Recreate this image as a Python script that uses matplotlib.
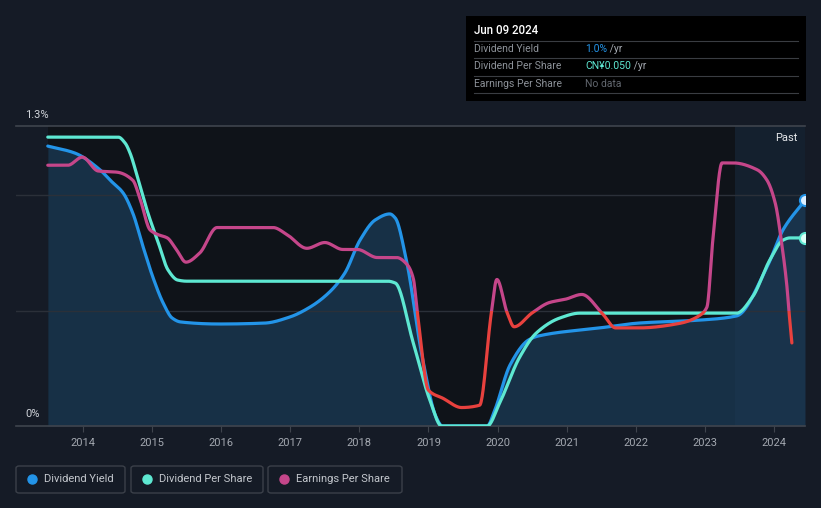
import numpy as np
import matplotlib
matplotlib.use("Agg")
import matplotlib.pyplot as plt
from matplotlib.patches import Rectangle, FancyBboxPatch

plt.rcParams['font.family'] = ['Roboto', 'DejaVu Sans']

# ---------------- data ----------------
yield_x = [2013.49, 2013.88, 2014.25, 2014.39, 2014.58, 2014.72, 2014.87, 2015.01, 2015.16,
           2015.29, 2015.41, 2015.98, 2016.63, 2016.99, 2017.29, 2017.57, 2017.79, 2018.01,
           2018.23, 2018.44, 2018.52, 2018.68, 2018.91, 2019.11, 2019.20, 2019.85, 2019.96,
           2020.18, 2020.45, 2020.59, 2021.48, 2022.04, 2022.93, 2023.46, 2023.90, 2024.13,
           2024.45]
yield_pct = [1.213, 1.183, 1.109, 1.066, 1.010, 0.923, 0.776, 0.646, 0.533,
             0.468, 0.451, 0.442, 0.446, 0.472, 0.516, 0.581, 0.663, 0.806,
             0.893, 0.919, 0.901, 0.719, 0.299, 0.039, 0.0, 0.0, 0.069,
             0.264, 0.373, 0.390, 0.425, 0.446, 0.459, 0.477, 0.689, 0.849,
             0.979]

dps_x = [2013.49, 2014.51, 2014.61, 2014.68, 2014.80, 2014.94, 2015.09, 2015.23, 2015.37,
         2015.50, 2018.41, 2018.52, 2018.78, 2019.02, 2019.19, 2019.85, 2020.03, 2020.32,
         2020.56, 2020.90, 2021.19, 2023.46, 2023.69, 2023.94, 2024.13, 2024.23, 2024.45]
dps_cny = [0.0768, 0.0768, 0.0752, 0.0726, 0.0654, 0.0566, 0.0487, 0.0415, 0.0388,
           0.0385, 0.0385, 0.0380, 0.0221, 0.0069, 0.0, 0.0, 0.0061, 0.0183,
           0.0247, 0.0287, 0.0300, 0.0300, 0.0343, 0.0441, 0.0494, 0.0500, 0.0500]

eps_x = [2013.49, 2013.78, 2013.99, 2014.22, 2014.49, 2014.72, 2014.83, 2014.97, 2015.08,
         2015.22, 2015.35, 2015.49, 2015.69, 2015.94, 2016.75, 2016.95, 2017.24,
         2017.50, 2017.76, 2017.97, 2018.26, 2018.54, 2018.69, 2018.78, 2018.84, 2019.00,
         2019.21, 2019.48, 2019.74, 2019.91, 2019.99, 2020.14, 2020.24, 2020.50, 2020.75,
         2020.99, 2021.22, 2021.51, 2021.71, 2022.04, 2022.64, 2022.93, 2023.03, 2023.12,
         2023.25, 2023.41, 2023.76, 2023.90, 2024.02, 2024.12, 2024.19, 2024.22, 2024.26]
eps_cny = [0.226, 0.226, 0.233, 0.221, 0.220, 0.213, 0.196, 0.170, 0.166,
           0.163, 0.153, 0.142, 0.150, 0.172, 0.172, 0.166, 0.154,
           0.159, 0.153, 0.153, 0.146, 0.146, 0.140, 0.128, 0.098, 0.031,
           0.024, 0.016, 0.018, 0.098, 0.127, 0.098, 0.086, 0.098, 0.107,
           0.110, 0.114, 0.098, 0.085, 0.085, 0.089, 0.096, 0.103, 0.164,
           0.228, 0.228, 0.222, 0.213, 0.193, 0.155, 0.120, 0.098, 0.072]

year_ticks = [2014, 2015, 2016, 2017, 2018, 2019, 2020, 2021, 2022, 2023, 2024]
y_labels = ["0%", "1.3%"]
legend_labels = ["Dividend Yield", "Dividend Per Share", "Earnings Per Share"]

# scale factors mapping each series onto the shared % axis
DPS_PER_PCT = 0.05 / 0.815
EPS_PER_PCT = 0.2
EPS_THRESHOLD = 0.1
PAST_START = 2023.44
X_MIN, X_MAX = 2013.03, 2024.45
Y_MAX = 1.3

# ---------------- helpers ----------------
def pchip(x, y, n=1500):
    x = np.asarray(x, float); y = np.asarray(y, float)
    h = np.diff(x); d = np.diff(y) / h
    m = np.zeros_like(y)
    for k in range(1, len(x) - 1):
        if d[k-1] * d[k] > 0:
            w1 = 2*h[k] + h[k-1]; w2 = h[k] + 2*h[k-1]
            m[k] = (w1 + w2) / (w1/d[k-1] + w2/d[k])
    m[0] = d[0]; m[-1] = d[-1]
    xs = np.linspace(x[0], x[-1], n)
    idx = np.clip(np.searchsorted(x, xs) - 1, 0, len(x) - 2)
    t = (xs - x[idx]) / h[idx]
    h00 = 2*t**3 - 3*t**2 + 1; h10 = t**3 - 2*t**2 + t
    h01 = -2*t**3 + 3*t**2; h11 = t**3 - t**2
    ys = h00*y[idx] + h10*h[idx]*m[idx] + h01*y[idx+1] + h11*h[idx]*m[idx+1]
    return xs, ys

BG = '#151b26'
PLOT_BG = '#0f1319'
BLUE = '#2394e8'
TEAL = '#5ee8d2'
PINK = '#c5468a'
RED = '#e8413e'

W, H = 821, 508
fig = plt.figure(figsize=(W/100, H/100), dpi=100, facecolor=BG)

def fx(px): return px / W
def fy(py): return 1 - py / H

ax = fig.add_axes([fx(16), fy(426), fx(805) - fx(16), fy(126) - fy(426)])
ax.set_facecolor(BG)
ax.set_xlim(X_MIN, X_MAX)
ax.set_ylim(0, Y_MAX)
for s in ax.spines.values():
    s.set_visible(False)

ax.axvspan(yield_x[0], X_MAX, color=PLOT_BG, zorder=0, lw=0)
ax.axvspan(PAST_START, X_MAX, color='#1c3550', alpha=0.4, zorder=1, lw=0)

bx, by = pchip(yield_x, yield_pct)
ax.fill_between(bx, 0, by, color='#1b3a56', alpha=0.75, lw=0, zorder=2)

for g in [0.5, 1.0]:
    ax.axhline(g, color='#2b3039', lw=1, zorder=3)
ax.axhline(Y_MAX, color='#3f444d', lw=1.2, zorder=3, clip_on=False)
ax.axhline(0, color='#3f444d', lw=1.2, zorder=3, clip_on=False)

ax.plot(bx, by, color=BLUE, lw=2.3, zorder=5, solid_capstyle='round')
tx, ty = pchip(dps_x, np.array(dps_cny) / DPS_PER_PCT)
ax.plot(tx, ty, color=TEAL, lw=2.3, zorder=6, solid_capstyle='round')

ex, ey = pchip(eps_x, np.array(eps_cny) / EPS_PER_PCT)
thr = EPS_THRESHOLD / EPS_PER_PCT
l1, = ax.plot(ex, ey, color=PINK, lw=2.3, zorder=7, solid_capstyle='round')
l2, = ax.plot(ex, ey, color=RED, lw=2.3, zorder=7, solid_capstyle='round')
r_up = Rectangle((X_MIN, thr), X_MAX - X_MIN, 5, transform=ax.transData)
r_dn = Rectangle((X_MIN, -5), X_MAX - X_MIN, 5 + thr, transform=ax.transData)
l1.set_clip_path(r_up)
l2.set_clip_path(r_dn)

ax.plot([yield_x[-1]], [yield_pct[-1]], 'o', ms=8, mfc='#dcefff', mec=BLUE, mew=1.5, zorder=8, clip_on=True)
ax.plot([dps_x[-1]], [dps_cny[-1] / DPS_PER_PCT], 'o', ms=8, mfc='#dcfff8', mec=TEAL, mew=1.5, zorder=8, clip_on=True)

ax.set_xticks(year_ticks)
ax.set_xticklabels([str(y) for y in year_ticks], color='#a3a8b0', fontsize=8)
ax.tick_params(axis='x', length=4, color='#3f444d', pad=5)
ax.set_yticks([])

fig.text(fx(25), fy(115), y_labels[1], color='#d0d4da', fontsize=8, va='center', ha='left')
fig.text(fx(25), fy(414), y_labels[0], color='#d0d4da', fontsize=8, va='center', ha='left')
fig.text(fx(797), fy(138), "Past", color='#e6e8eb', fontsize=8, va='center', ha='right')

fig.patches.append(Rectangle((fx(466), fy(101)), fx(806) - fx(466), fy(16) - fy(101),
                             transform=fig.transFigure, facecolor='#000000', edgecolor='none', zorder=10))
fig.text(fx(474), fy(31), "Jun 09 2024", color='#ffffff', fontsize=8.3, va='center',
         fontweight='medium', zorder=11)
for sy in [41, 58, 76, 93]:
    fig.add_artist(plt.Line2D([fx(474), fx(798)], [fy(sy), fy(sy)], color='#3a3d42', lw=0.8,
                              transform=fig.transFigure, zorder=11))
rows = [("Dividend Yield", "1.0%", BLUE, " /yr"),
        ("Dividend Per Share", "CN¥0.050", TEAL, " /yr"),
        ("Earnings Per Share", "No data", '#62676f', "")]
for (lab, val, col, suf), ry in zip(rows, [49, 66, 84]):
    fig.text(fx(474), fy(ry), lab, color='#8d9299', fontsize=7.5, va='center', zorder=11)
    t = fig.text(fx(585), fy(ry), val, color=col, fontsize=7.5, va='center', zorder=11)
    if suf:
        fig.canvas.draw()
        bb = t.get_window_extent()
        fig.text(bb.x1 / W, fy(ry), suf, color='#a6abb2', fontsize=7.5, va='center', zorder=11)

boxes = [(16, 125), (131, 263), (268, 402)]
cols = [BLUE, TEAL, PINK]
for (x0, x1), lab, col in zip(boxes, legend_labels, cols):
    fig.patches.append(FancyBboxPatch((fx(x0), fy(493)), fx(x1) - fx(x0), fy(466) - fy(493),
                                      boxstyle="round,pad=0,rounding_size=0.004",
                                      transform=fig.transFigure, facecolor='none',
                                      edgecolor='#3b4049', lw=1))
    fig.add_artist(plt.Line2D([fx(x0 + 16)], [fy(479)], marker='o', ms=6.5, color=col,
                              transform=fig.transFigure, lw=0))
    fig.text(fx(x0 + 28), fy(479), lab, color='#c3c7cd', fontsize=8, va='center')

fig.savefig("out.png", dpi=100, facecolor=BG)
